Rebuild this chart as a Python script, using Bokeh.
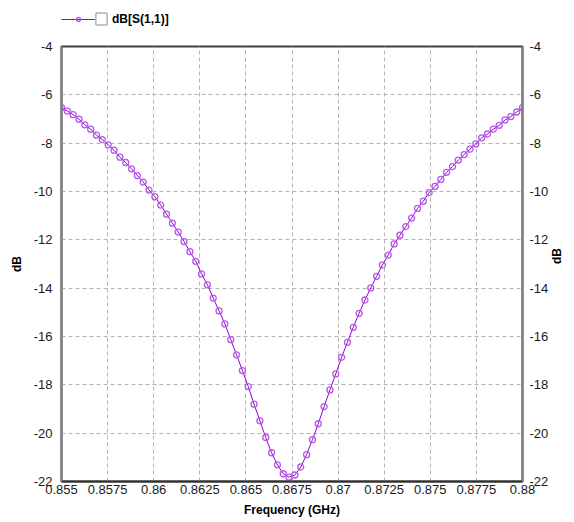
import math
from bokeh.plotting import figure
from bokeh.layouts import column
from bokeh.models import (LinearAxis, FixedTicker, Legend, LegendItem, Range1d,
                          ColumnDataSource)
from bokeh.embed import file_html
from bokeh.resources import INLINE

# ---------------- data ----------------
FREQ_GHZ = [
    0.855000, 0.855316, 0.855633, 0.855949, 0.856266, 0.856582, 0.856899, 0.857215,
    0.857532, 0.857848, 0.858165, 0.858481, 0.858797, 0.859114, 0.859430, 0.859747,
    0.860063, 0.860380, 0.860696, 0.861013, 0.861329, 0.861646, 0.861962, 0.862278,
    0.862595, 0.862911, 0.863228, 0.863544, 0.863861, 0.864177, 0.864494, 0.864810,
    0.865127, 0.865443, 0.865759, 0.866076, 0.866392, 0.866709, 0.867025, 0.867342,
    0.867658, 0.867975, 0.868291, 0.868608, 0.868924, 0.869241, 0.869557, 0.869873,
    0.870190, 0.870506, 0.870823, 0.871139, 0.871456, 0.871772, 0.872089, 0.872405,
    0.872722, 0.873038, 0.873354, 0.873671, 0.873987, 0.874304, 0.874620, 0.874937,
    0.875253, 0.875570, 0.875886, 0.876203, 0.876519, 0.876835, 0.877152, 0.877468,
    0.877785, 0.878101, 0.878418, 0.878734, 0.879051, 0.879367, 0.879684, 0.880000,
]
S11_DB = [
    -6.53, -6.67, -6.82, -7.01, -7.24, -7.42, -7.67, -7.85,
    -8.07, -8.29, -8.58, -8.80, -9.06, -9.34, -9.61, -9.94,
    -10.22, -10.56, -10.94, -11.31, -11.68, -12.07, -12.49, -12.89,
    -13.41, -13.86, -14.41, -14.94, -15.48, -16.13, -16.76, -17.41,
    -18.07, -18.80, -19.49, -20.18, -20.81, -21.31, -21.68, -21.82,
    -21.73, -21.40, -20.89, -20.27, -19.61, -18.90, -18.21, -17.55,
    -16.86, -16.24, -15.62, -15.04, -14.49, -13.99, -13.51, -13.04,
    -12.63, -12.17, -11.81, -11.45, -11.10, -10.70, -10.40, -10.05,
    -9.79, -9.50, -9.21, -8.97, -8.70, -8.47, -8.25, -8.03,
    -7.78, -7.62, -7.42, -7.26, -7.04, -6.90, -6.71, -6.53,
]
X_TICKS = [0.855, 0.8575, 0.86, 0.8625, 0.865, 0.8675, 0.87, 0.8725, 0.875, 0.8775, 0.88]
X_TICK_LABELS = ["0.855", "0.8575", "0.86", "0.8625", "0.865", "0.8675",
                 "0.87", "0.8725", "0.875", "0.8775", "0.88"]
Y_TICKS = [-22, -20, -18, -16, -14, -12, -10, -8, -6, -4]
Y_TICK_LABELS = ["-22", "-20", "-18", "-16", "-14", "-12", "-10", "-8", "-6", "-4"]
SERIES_NAME = "dB[S(1,1)]"
X_LABEL = "Frequency (GHz)"
Y_LABEL = "dB"

FONT = "Liberation Sans"
LINE_COLOR = "#9400d3"
MARKER_COLOR = "#b45ae6"

src = ColumnDataSource(dict(f=FREQ_GHZ, db=S11_DB))

# ---------------- legend strip (above the plot) ----------------
# The strip shares the x range; its y range excludes the data, so the
# renderers below only serve as legend glyph sources.
leg_fig = figure(width=574, height=36,
                 x_range=Range1d(X_TICKS[0], X_TICKS[-1]), y_range=Range1d(0, 1),
                 x_axis_type=None, y_axis_type=None, min_border=0,
                 output_backend="svg", toolbar_location=None,
                 background_fill_color="white", border_fill_color="white")
leg_fig.outline_line_color = None
leg_line = leg_fig.line("f", "db", source=src, line_color=LINE_COLOR, line_width=1)
leg_pts = leg_fig.scatter("f", "db", source=src, marker="circle",
                          line_color=MARKER_COLOR, line_width=1.3, fill_color=None)
leg_box = leg_fig.quad(left="f", right="f", top="db", bottom="db", source=src,
                       line_color="#8c8c8c", line_width=1, fill_color="white")

leg1 = Legend(items=[LegendItem(label=" ", renderers=[leg_line, leg_pts], index=0)],
              location=(0, 12), glyph_width=34, glyph_height=10,
              label_height=10, label_width=1, label_standoff=0,
              padding=0, margin=0, border_line_color=None,
              background_fill_alpha=0, label_text_font_size="8px")
leg2 = Legend(items=[LegendItem(label=SERIES_NAME, renderers=[leg_box], index=0)],
              location=(33, 10), glyph_width=14, glyph_height=15,
              label_height=15, label_standoff=4, padding=0, margin=0,
              border_line_color=None, background_fill_alpha=0,
              label_text_font=FONT, label_text_font_size="12px",
              label_text_font_style="bold", label_text_color="#000000")
leg_fig.add_layout(leg1)
leg_fig.add_layout(leg2)

# ---------------- main plot ----------------
p = figure(width=574, height=486,
           x_range=leg_fig.x_range,
           y_range=Range1d(Y_TICKS[0], Y_TICKS[-1]),
           output_backend="svg", toolbar_location=None,
           min_border_left=61, min_border_right=49,
           min_border_top=10, min_border_bottom=41,
           background_fill_color="white", border_fill_color="white")

p.outline_line_color = "#404040"
p.outline_line_width = 2

x_over = {t: l for t, l in zip(X_TICKS, X_TICK_LABELS)}
y_over = {t: l for t, l in zip(Y_TICKS, Y_TICK_LABELS)}


def style_axis(ax, ticks, overrides, standoff, label_standoff):
    ax.ticker = FixedTicker(ticks=ticks)
    ax.major_label_overrides = overrides
    ax.major_tick_out = 0
    ax.major_tick_in = 0
    ax.minor_tick_out = 0
    ax.minor_tick_in = 0
    ax.major_label_standoff = standoff
    ax.axis_label_standoff = label_standoff
    ax.major_label_text_font = FONT
    ax.major_label_text_font_size = "13px"
    ax.major_label_text_color = "#1a1a1a"
    ax.axis_label_text_font = FONT
    ax.axis_label_text_font_size = "12px"
    ax.axis_label_text_font_style = "bold"
    ax.axis_label_text_color = "#000000"


xax = p.xaxis[0]
style_axis(xax, X_TICKS, x_over, 3, 6)
xax.axis_label = X_LABEL
xax.axis_line_color = "#303030"
xax.axis_line_width = 2

yax = p.yaxis[0]
style_axis(yax, Y_TICKS, y_over, 9, 7)
yax.axis_label = Y_LABEL
yax.axis_line_color = "#808080"
yax.axis_line_width = 2

rax = LinearAxis()
style_axis(rax, Y_TICKS, y_over, 7, 6)
rax.axis_label = Y_LABEL
rax.axis_line_color = "#808080"
rax.axis_line_width = 2
try:
    rax.axis_label_orientation = math.pi / 2
except Exception:
    pass
p.add_layout(rax, "right")

for g, ticks in ((p.xgrid[0], X_TICKS), (p.ygrid[0], Y_TICKS)):
    g.ticker = FixedTicker(ticks=ticks)
    g.grid_line_color = "#b4b4b4"
    g.grid_line_dash = "4 3"
    g.grid_line_width = 1

line_r = p.line("f", "db", source=src, line_color=LINE_COLOR, line_width=1)
pts_r = p.scatter("f", "db", source=src, marker="circle", size=6,
                  line_color=MARKER_COLOR, line_width=1.3, fill_color=None)

layout = column(leg_fig, p, spacing=0)
open("out.html", "w").write(file_html(layout, INLINE))
